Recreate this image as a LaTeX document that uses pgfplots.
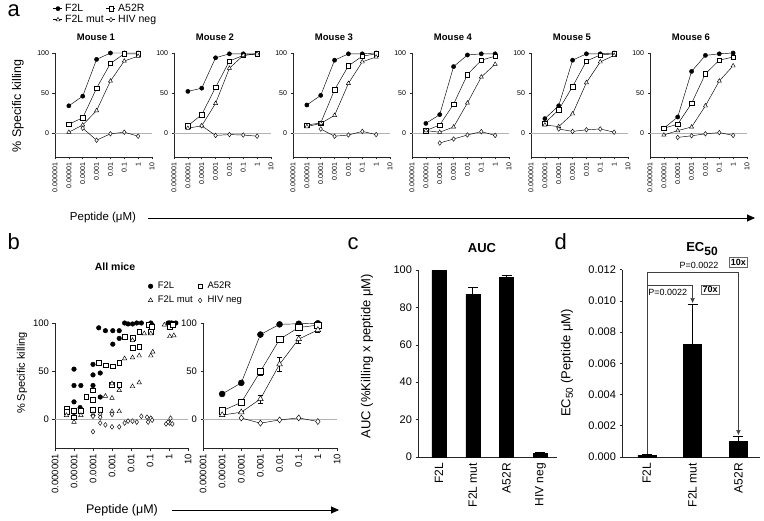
\documentclass[border=0pt]{standalone}
\usepackage{pgfplots}
\pgfplotsset{compat=1.18}
\usepackage{fontspec}
\setmainfont{Liberation Sans}
\usetikzlibrary{arrows.meta}
\newcommand{\fs}[1]{\fontsize{#1}{#1}\selectfont}
\newcommand{\lgd}[1]{{\fontsize{10.5}{10.5}\selectfont #1}}
\pgfplotsset{/pgf/number format/assume math mode=true}
\pgfplotsset{legend image code/.code={\draw[mark repeat=2,mark phase=2,#1] plot coordinates {(0pt,0pt) (4.5pt,0pt) (9pt,0pt)};}}
\pgfplotsset{
  mybase/.style={scale only axis, axis lines=left, axis line style={-, line width=0.9pt, black!85},
    tick align=outside, major tick length=2.5pt, minor tick length=1.4pt,
    tick style={line width=0.6pt, black!85}, enlargelimits=false, clip=false},
  mylogx/.style={xmin=1e-6, xmax=10,
    xtick={1e-6,1e-5,1e-4,1e-3,1e-2,1e-1,1,10},
    xticklabels={0.000001,0.00001,0.0001,0.001,0.01,0.1,1,10},
    minor xtick={2e-6,3e-6,4e-6,5e-6,6e-6,7e-6,8e-6,9e-6,2e-5,3e-5,4e-5,5e-5,6e-5,7e-5,8e-5,9e-5,2e-4,3e-4,4e-4,5e-4,6e-4,7e-4,8e-4,9e-4,0.002,0.003,0.004,0.005,0.006,0.007,0.008,0.009,0.02,0.03,0.04,0.05,0.06,0.07,0.08,0.09,0.2,0.3,0.4,0.5,0.6,0.7,0.8,0.9,2,3,4,5,6,7,8,9},
    xticklabel style={rotate=90, anchor=east},
    ymin=-30, ymax=100, ytick={0,50,100}},
  f2l/.style={black, line width=0.45pt, mark=*, mark options={fill=black, solid}},
  a52/.style={black, line width=0.45pt, mark=square*, mark options={fill=white, solid}},
  mut/.style={black, line width=0.45pt, mark=triangle*, mark options={fill=white, solid}},
  hiv/.style={black, line width=0.45pt, mark=diamond*, mark options={fill=white, solid}},
}
\newcommand{\mouse}[7]{%
\begin{axis}[xmode=log, mybase, mylogx, at={(#1pt,-157pt)}, anchor=south west, width=97pt, height=104pt,
  xticklabel style={font=\fs{7}}, yticklabel style={font=\fs{7}}, #7]
\addplot[gray!60, line width=0.5pt, forget plot] coordinates {(1e-6,0) (10,0)};
\addplot[f2l, mark size=2.1pt] coordinates {#3};
\addplot[a52, mark size=2.2pt] coordinates {#4};
\addplot[mut, mark size=2.4pt] coordinates {#5};
\addplot[hiv, mark size=2.3pt] coordinates {#6};
\end{axis}
\node[font=\bfseries\fs{9.5}] at (#1pt+41pt,-37pt) {#2};
}
\begin{document}
\begin{tikzpicture}
\useasboundingbox (0pt,0pt) rectangle (764pt,-521pt);
% ---------------- panel a
\mouse{55}{Mouse 1}
 {(1e-5,34) (1e-4,46) (1e-3,92) (1e-2,100) (1e-1,100) (1,100)}
 {(1e-5,11) (1e-4,19) (1e-3,56) (1e-2,87) (1e-1,99) (1,99)}
 {(1e-5,1) (1e-4,10) (1e-3,28) (1e-2,65) (1e-1,90) (1,96)}
 {(1e-4,6) (1e-3,-9) (1e-2,-1) (1e-1,1) (1,-4)}
 {legend entries={\lgd{F2L},\lgd{A52R},\lgd{F2L mut},\lgd{HIV neg}}, legend columns=2, legend cell align=left,
  legend style={at={(axis description cs:-0.02,1.49)}, anchor=north west, draw=none, fill=none,
  inner sep=0pt, row sep=-1.8pt, column sep=0.5pt}}
\mouse{174}{Mouse 2}
 {(1e-5,52) (1e-4,56) (1e-3,94) (1e-2,99) (1e-1,99) (1,99)}
 {(1e-5,9) (1e-4,23) (1e-3,57) (1e-2,90) (1e-1,97) (1,99)}
 {(1e-5,6) (1e-4,9) (1e-3,37) (1e-2,81) (1e-1,97) (1,99)}
 {(1e-4,9) (1e-3,-3) (1e-2,-2) (1e-1,-2.5) (1,-4)}{}
\mouse{293}{Mouse 3}
 {(1e-5,35) (1e-4,47) (1e-3,91) (1e-2,99) (1e-1,99) (1,100)}
 {(1e-5,10) (1e-4,12.5) (1e-3,54) (1e-2,84) (1e-1,96) (1,99)}
 {(1e-5,8) (1e-4,12) (1e-3,22) (1e-2,62) (1e-1,89) (1,95)}
 {(1e-4,5) (1e-3,-4) (1e-2,-2.5) (1e-1,2) (1,-2)}{}
\mouse{412}{Mouse 4}
 {(1e-5,12) (1e-4,23) (1e-3,83) (1e-2,97.5) (1e-1,99) (1,99)}
 {(1e-5,3) (1e-4,10) (1e-3,36) (1e-2,73) (1e-1,91) (1,96)}
 {(1e-5,3) (1e-4,1) (1e-3,7.5) (1e-2,37.5) (1e-1,70) (1,86)}
 {(1e-4,-12.5) (1e-3,-7.5) (1e-2,-2.5) (1e-1,1.7) (1,-3)}{}
\mouse{531}{Mouse 5}
 {(1e-5,18) (1e-4,34) (1e-3,91) (1e-2,99) (1e-1,99) (1,100)}
 {(1e-5,12.5) (1e-4,29) (1e-3,58) (1e-2,90) (1e-1,97.5) (1,99)}
 {(1e-5,10) (1e-4,8) (1e-3,24) (1e-2,63) (1e-1,89) (1,97)}
 {(1e-4,5) (1e-3,2) (1e-2,4) (1e-1,5) (1,1)}{}
\mouse{650}{Mouse 6}
 {(1e-5,6) (1e-4,20) (1e-3,77) (1e-2,97) (1e-1,99) (1,100)}
 {(1e-5,6) (1e-4,11) (1e-3,37) (1e-2,74) (1e-1,91) (1,95)}
 {(1e-5,-2.5) (1e-4,3) (1e-3,7.5) (1e-2,34) (1e-1,65) (1,84)}
 {(1e-4,-5.5) (1e-3,-3.5) (1e-2,-1) (1e-1,0.5) (1,-3)}{}
\node[anchor=base west, font=\fs{22}] at (4pt,-17pt) {a};
\node[rotate=90, font=\fs{12.5}] at (18pt,-106pt) {\% Specific killing};
\node[font=\fs{11.5}] at (103pt,-218pt) {Peptide (μM)};
\draw[line width=0.9pt, -{Triangle[length=8pt,width=7pt]}] (148pt,-218pt) -- (755pt,-218pt);
% ---------------- panel b left
\begin{axis}[xmode=log, mybase, mylogx, at={(55pt,-448pt)}, anchor=south west, width=133pt, height=125pt,
  tick label style={font=\fs{9.5}},
  legend entries={F2L,A52R,F2L mut,HIV neg}, legend columns=2, legend cell align=left,
  legend style={at={(axis description cs:0.70,1.344)}, anchor=north west, draw=none, fill=none,
  font=\fs{9.5}, inner sep=0pt, row sep=2pt, column sep=3pt}]
\addplot[gray!60, line width=0.5pt, forget plot] coordinates {(1e-6,0) (10,0)};
\addplot[f2l, only marks, mark size=2.3pt] coordinates {
(1e-5,52) (1e-5,35) (1e-5,18) (1e-5,7) (2.3e-5,35) (2.1e-5,12)
(1e-4,57) (1e-4,46) (1e-4,35) (1e-4,20) (2.4e-4,48) (2.4e-4,23)
(2e-4,95) (4.5e-4,92) (1.1e-3,92) (1.1e-3,78) (2.4e-3,92) (2.4e-3,84)
(4.6e-3,100) (7e-3,99) (1.2e-2,99) (2e-2,100) (3.5e-2,100) (0.11,100) (0.13,98)
(0.9,100) (1.1,100) (1.4,100) (1.8,99) (2.3,100)};
\addplot[a52, only marks, mark size=2.4pt] coordinates {
(4e-6,11) (4e-6,8) (1e-5,9) (1e-5,2) (2.3e-5,9) (4.4e-5,23)
(1e-4,30) (1e-4,20) (1e-4,10) (2.4e-4,10)
(2e-4,59) (4.5e-4,56) (1.1e-3,55) (1e-3,36) (2.4e-3,36) (2.4e-3,59)
(1.2e-2,74) (2.7e-2,75) (4.6e-3,86) (1.2e-2,85) (2.7e-2,91) (0.11,91) (0.08,98) (0.12,96)
(1.3,99) (1.1,96) (1.6,98)};
\addplot[mut, only marks, mark size=2.6pt] coordinates {
(4e-6,4) (1e-5,-3) (1e-4,5) (4.5e-4,24) (1e-3,22) (1e-3,37) (2.4e-3,30) (1.2e-2,34) (2.7e-2,38)
(4.6e-3,63) (1.2e-2,64) (2.7e-2,66) (0.11,66) (0.14,70) (5e-2,89) (0.11,89) (0.57,98) (1.1,86) (1.8,87)
(1e-3,8) (2.4e-3,8) (1.2e-2,82) (2.3e-5,4)};
\addplot[hiv, only marks, mark size=2.4pt] coordinates {
(1e-4,3) (2.4e-4,5) (1e-4,-13) (2.4e-4,-4) (4.5e-4,-6) (1e-3,-8) (2.4e-3,-8) (1e-3,5) (2.4e-4,2)
(4.6e-3,-4) (7e-3,-2) (1.2e-2,-2) (2e-2,-3) (3.5e-2,3) (7e-2,2) (0.11,1) (0.13,-1) (0.08,-3)
(0.7,-5) (1.1,-4) (1.5,-5) (1.2,1) (0.9,-3)};
\end{axis}
% ---------------- panel b right
\begin{axis}[xmode=log, mybase, mylogx, at={(203pt,-448pt)}, anchor=south west, width=134pt, height=125pt,
  tick label style={font=\fs{9.5}}]
\addplot[gray!60, line width=0.5pt, forget plot] coordinates {(1e-6,0) (10,0)};
\addplot[f2l, mark size=3pt] coordinates {(1e-5,26.2) (1e-4,37.7) (1e-3,88.0) (1e-2,98.6) (1e-1,99.2) (1,99.7)};
\addplot[a52, mark size=3.2pt, error bars/.cd, y dir=both, y explicit, error bar style={line width=0.5pt}, error mark options={rotate=90, mark size=2.5pt}]
 coordinates {(1e-5,8.6) +- (0,1) (1e-4,17.4) +- (0,2) (1e-3,49.7) +- (0,3.5) (1e-2,83.0) +- (0,3) (1e-1,95.3) +- (0,2) (1,97.8) +- (0,1)};
\addplot[mut, mark size=3.3pt, error bars/.cd, y dir=both, y explicit, error bar style={line width=0.5pt}, error mark options={rotate=90, mark size=2.5pt}]
 coordinates {(1e-5,4.25) +- (0,1.5) (1e-4,7.2) +- (0,1.5) (1e-3,21.0) +- (0,4) (1e-2,57.1) +- (0,7) (1e-1,83.3) +- (0,4.5) (1,92.8) +- (0,2.5)};
\addplot[hiv, mark size=3pt] coordinates {(1e-4,1.2) (1e-3,-4.2) (1e-2,-0.8) (1e-1,1.3) (1,-2.5)};
\end{axis}
\node[anchor=base west, font=\fs{22}] at (4pt,-250pt) {b};
\node[font=\bfseries\fs{10.5}] at (115pt,-267pt) {All mice};
\node[rotate=90, font=\fs{11}] at (22pt,-373pt) {\% Specific killing};
\node[font=\fs{12.5}] at (122pt,-510pt) {Peptide (μM)};
\draw[line width=0.9pt, -{Triangle[length=8pt,width=7pt]}] (172pt,-510pt) -- (339pt,-510pt);
% ---------------- panel c
\begin{axis}[mybase, at={(418pt,-457pt)}, anchor=south west, width=139pt, height=187pt,
  ymin=0, ymax=100, ytick={0,20,40,60,80,100}, xmin=-0.62, xmax=3.49,
  xtick={0,1,2,3}, xticklabels={F2L,F2L mut,A52R,HIV neg}, xtick style={draw=none},
  xticklabel style={rotate=90, anchor=east, font=\fs{12}}, yticklabel style={font=\fs{11}},
  ybar, bar width=14pt]
\addplot[fill=black, draw=black, error bars/.cd, y dir=plus, y explicit, error bar style={line width=0.6pt}, error mark options={rotate=90, mark size=5pt, line width=0.6pt}]
 coordinates {(0,99.8) +- (0,0.2) (1,86.8) +- (0,3.9) (2,96.1) +- (0,0.9) (3,2.1) +- (0,0.3)};
\end{axis}
\node[anchor=base west, font=\fs{22}] at (344pt,-250pt) {c};
\node[font=\bfseries\fs{13}] at (482pt,-248pt) {AUC};
\node[rotate=90, font=\fs{13}] at (367pt,-356pt) {AUC (\%Killing x peptide μM)};
% ---------------- panel d
\begin{axis}[mybase, at={(622pt,-457pt)}, anchor=south west, width=138pt, height=187.4pt,
  ymin=0, ymax=0.012, ytick={0,0.002,0.004,0.006,0.008,0.010,0.012}, scaled y ticks=false,
  yticklabels={0.000,0.002,0.004,0.006,0.008,0.010,0.012},
  xmin=-0.54, xmax=2.47, xtick={0,1,2}, xticklabels={F2L,F2L mut,A52R}, xtick style={draw=none},
  xticklabel style={rotate=90, anchor=east, font=\fs{12}}, yticklabel style={font=\fs{11}},
  ybar, bar width=18pt]
\addplot[fill=black, draw=black, error bars/.cd, y dir=plus, y explicit, error bar style={line width=0.6pt}, error mark options={rotate=90, mark size=5pt, line width=0.6pt}]
 coordinates {(0,0.00011) +- (0,0.00005) (1,0.0072) +- (0,0.0026) (2,0.00102) +- (0,0.00032)};
\draw[line width=0.5pt, black!75] (axis cs:0,0.0002) -- (axis cs:0,0.01183) -- (axis cs:2,0.01183);
\draw[line width=0.5pt, black!75, -{Latex[length=5pt,width=4.5pt]}] (axis cs:2,0.01183) -- (axis cs:2,0.0014);
\draw[line width=0.5pt, black!75] (axis cs:0,0.0110) -- (axis cs:1,0.0110);
\draw[line width=0.5pt, black!75, -{Latex[length=5pt,width=4.5pt]}] (axis cs:1,0.0110) -- (axis cs:1,0.00985);
\node[font=\fs{9}] at (axis cs:0.46,0.01055) {P=0.0022};
\node[font=\fs{9}] at (axis cs:1.14,0.01228) {P=0.0022};
\node[draw=black!60, line width=0.6pt, font=\bfseries\fs{9}, inner sep=1.5pt] at (axis cs:1.38,0.0107) {70x};
\node[draw=black!60, line width=0.6pt, font=\bfseries\fs{9}, inner sep=1.5pt] at (axis cs:2.0,0.01247) {10x};
\end{axis}
\node[anchor=base west, font=\fs{22}] at (551pt,-250pt) {d};
\node[font=\bfseries\fs{13}] at (702pt,-249pt) {EC\raisebox{-3.5pt}{\fs{12}50}};
\node[rotate=90, font=\fs{13}] at (567pt,-363pt) {EC\raisebox{-2.5pt}{\fs{10}50} (Peptide μM)};
\end{tikzpicture}
\end{document}
